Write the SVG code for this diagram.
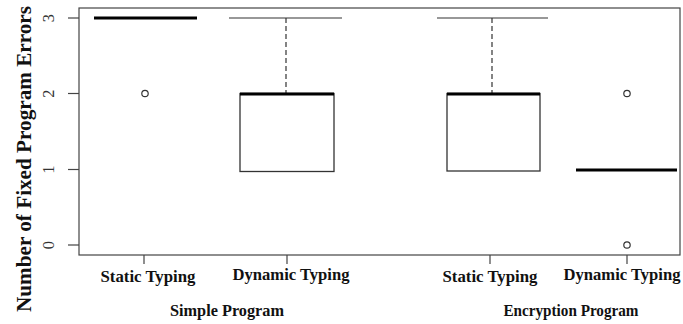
<svg xmlns="http://www.w3.org/2000/svg" width="683" height="324" viewBox="0 0 683 324">
<style>
.frame{fill:none;stroke:#444;stroke-width:1.2}
.tick{stroke:#444;stroke-width:1.2}
.whisk{stroke:#333;stroke-width:1.2;fill:none}
.dash{stroke:#333;stroke-width:1.2;stroke-dasharray:5,3}
.box{fill:#fff;stroke:#333;stroke-width:1.3}
.med{stroke:#000;stroke-width:3.2}
.out{fill:#fff;stroke:#333;stroke-width:1.2}
.num{font-family:"Liberation Serif",serif;font-size:16.5px;fill:#333;text-anchor:middle}
.lab{font-family:"Liberation Serif",serif;font-weight:bold;font-size:16px;fill:#111;text-anchor:middle}
.title{font-family:"Liberation Serif",serif;font-weight:bold;font-size:20px;fill:#111;text-anchor:middle}
</style>
<rect width="683" height="324" fill="#fff"/>
<g id="axes">
<rect class="frame" x="79" y="8" width="601" height="247"/>
<line class="tick" x1="68" y1="18" x2="79" y2="18"/>
<line class="tick" x1="68" y1="93.5" x2="79" y2="93.5"/>
<line class="tick" x1="68" y1="169.5" x2="79" y2="169.5"/>
<line class="tick" x1="68" y1="245" x2="79" y2="245"/>
<text class="num" transform="translate(53.5,18) rotate(-90)">3</text>
<text class="num" transform="translate(53.5,93.5) rotate(-90)">2</text>
<text class="num" transform="translate(53.5,169.5) rotate(-90)">1</text>
<text class="num" transform="translate(53.5,245) rotate(-90)">0</text>
<line class="tick" x1="144" y1="255" x2="144" y2="264"/>
<line class="tick" x1="287" y1="255" x2="287" y2="264"/>
<line class="tick" x1="490" y1="255" x2="490" y2="264"/>
<line class="tick" x1="627" y1="255" x2="627" y2="264"/>
<text class="title" transform="translate(31,159) rotate(-90)" textLength="306" lengthAdjust="spacingAndGlyphs">Number of Fixed Program Errors</text>
</g>
<g id="static-simple">
<line class="med" x1="94" y1="18" x2="197" y2="18"/>
<circle class="out" cx="145" cy="93.5" r="3.2"/>
<text class="lab" x="148" y="282" textLength="95" lengthAdjust="spacingAndGlyphs">Static Typing</text>
</g>
<g id="dynamic-simple">
<line class="whisk" x1="229" y1="18" x2="342" y2="18"/>
<line class="dash" x1="286" y1="18" x2="286" y2="93"/>
<rect class="box" x="240" y="93.5" width="94" height="78"/>
<line class="med" x1="240" y1="94" x2="334" y2="94"/>
<text class="lab" x="291" y="280" textLength="117" lengthAdjust="spacingAndGlyphs">Dynamic Typing</text>
</g>
<g id="static-encryption">
<line class="whisk" x1="437" y1="18" x2="548" y2="18"/>
<line class="dash" x1="492" y1="18" x2="492" y2="93"/>
<rect class="box" x="447" y="93.5" width="93" height="77.5"/>
<line class="med" x1="447" y1="94" x2="540" y2="94"/>
<text class="lab" x="490" y="282" textLength="95" lengthAdjust="spacingAndGlyphs">Static Typing</text>
</g>
<g id="dynamic-encryption">
<line class="med" x1="576" y1="170" x2="677" y2="170"/>
<circle class="out" cx="627" cy="93.5" r="3.2"/>
<circle class="out" cx="627" cy="245" r="3.2"/>
<text class="lab" x="622" y="280" textLength="117" lengthAdjust="spacingAndGlyphs">Dynamic Typing</text>
</g>
<g id="group-labels">
<text class="lab" x="227" y="316" textLength="114" lengthAdjust="spacingAndGlyphs">Simple Program</text>
<text class="lab" x="571" y="316" textLength="135" lengthAdjust="spacingAndGlyphs">Encryption Program</text>
</g>
<g id="connectors"></g>
</svg>
